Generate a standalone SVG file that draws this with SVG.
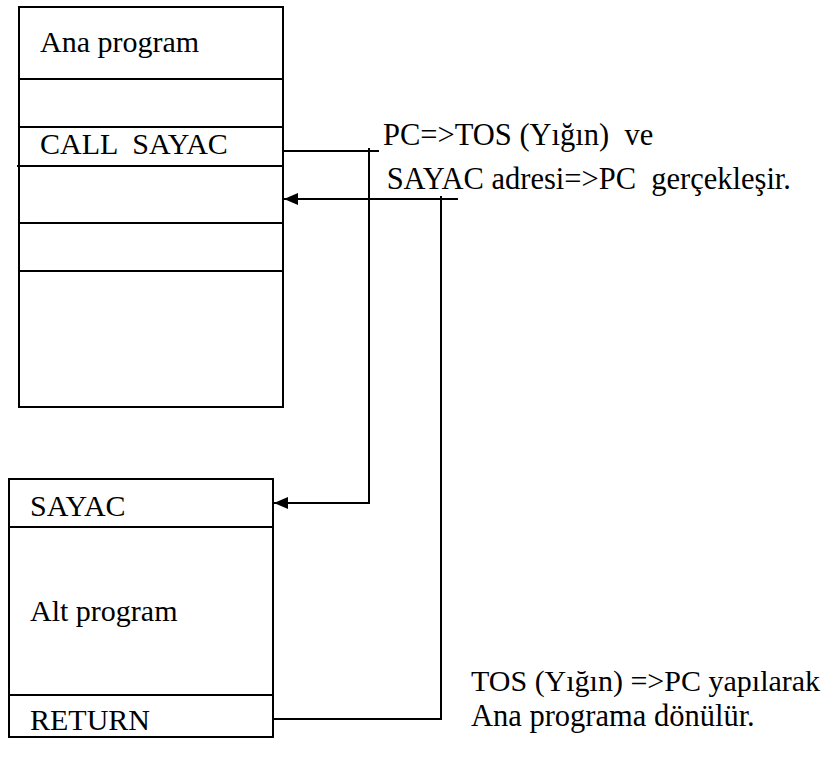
<svg xmlns="http://www.w3.org/2000/svg" width="824" height="760" viewBox="0 0 824 760">
<style>
.box{fill:none;stroke:#000;stroke-width:2}
.ln{stroke:#000;stroke-width:2;fill:none}
.cn{stroke:#000;stroke-width:2;fill:none}
.t{font-family:"Liberation Serif","Times New Roman",serif;font-size:30px;fill:#000;white-space:pre}
.lb{font-size:30.5px}
</style>
<defs>
<marker id="ah" viewBox="0 0 14 12" refX="14" refY="6" markerWidth="7" markerHeight="6" orient="auto" markerUnits="strokeWidth">
<path d="M0,0 L14,6 L0,12 z" fill="#000"/>
</marker>
</defs>
<g id="ana-program">
<rect class="box" x="19" y="7" width="264" height="400"/>
<line class="ln" x1="19" y1="79" x2="283" y2="79"/>
<line class="ln" x1="19" y1="127" x2="283" y2="127"/>
<line class="ln" x1="17" y1="166" x2="283" y2="166"/>
<line class="ln" x1="19" y1="223" x2="283" y2="223"/>
<line class="ln" x1="19" y1="271" x2="283" y2="271"/>
<text class="t" x="40" y="52" xml:space="preserve">Ana program</text>
<text class="t" x="40" y="154" xml:space="preserve">CALL  SAYAC</text>
</g>
<g id="alt-program">
<rect class="box" x="9" y="479" width="264" height="258"/>
<line class="ln" x1="9" y1="527" x2="273" y2="527"/>
<line class="ln" x1="9" y1="695" x2="273" y2="695"/>
<text class="t" x="30" y="516" xml:space="preserve">SAYAC</text>
<text class="t" x="30" y="621" xml:space="preserve">Alt program</text>
<text class="t" x="30" y="730" xml:space="preserve">RETURN</text>
</g>
<g id="labels">
<text class="t lb" x="383" y="145" xml:space="preserve">PC=&gt;TOS (Yığın)  ve</text>
<text class="t lb" x="379" y="189" xml:space="preserve"> SAYAC adresi=&gt;PC  gerçekleşir.</text>
<text class="t" x="471" y="691" xml:space="preserve">TOS (Yığın) =&gt;PC yapılarak</text>
<text class="t lb" x="471" y="726" xml:space="preserve">Ana programa dönülür.</text>
</g>
<g id="connectors">
<polyline class="cn" points="283,151 379,151"/>
<polyline class="cn" points="369,148 369,503 274,503" marker-end="url(#ah)"/>
<polyline class="cn" points="458,199 284,199" marker-end="url(#ah)"/>
<polyline class="cn" points="441,196 441,719 273,719"/>
</g>
</svg>
